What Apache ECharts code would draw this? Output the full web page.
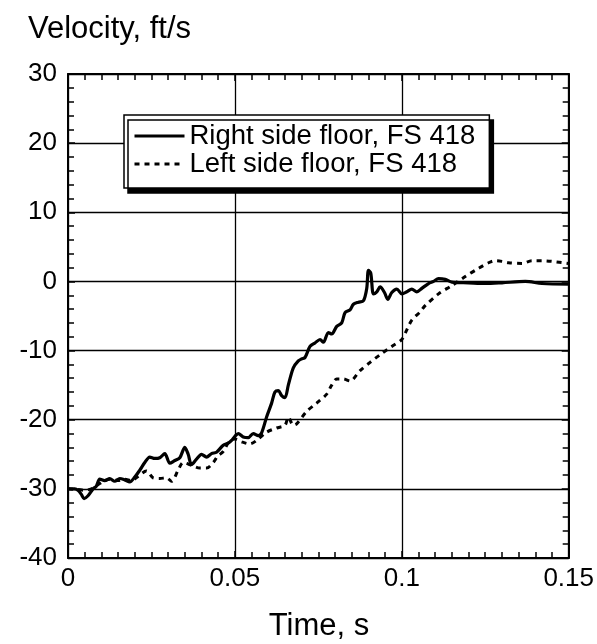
<!DOCTYPE html>
<html>
<head>
<meta charset="utf-8">
<script src="https://cdn.jsdelivr.net/npm/echarts@6/dist/echarts.min.js"></script>
<style>
html,body{margin:0;padding:0;background:#fff;}
#chart{width:597px;height:644px;}
</style>
</head>
<body>
<div id="chart"></div>
<script>
const xTitle = 'Time, s';
const yTitle = 'Velocity, ft/s';
const seriesNames = ['Right side floor, FS 418', 'Left side floor, FS 418'];

const rightT = [0,0.002,0.003,0.004,0.0048,0.006,0.0075,0.0085,0.0095,0.011,0.0125,0.014,0.0155,0.017,0.0185,0.020,0.0215,0.023,0.0245,0.026,0.0275,0.029,0.0305,0.032,0.0335,0.035,0.036,0.037,0.0385,0.040,0.0415,0.043,0.0445,0.0465,0.048,0.049,0.050,0.051,0.0525,0.054,0.0555,0.057,0.058,0.0595,0.061,0.062,0.063,0.064,0.065,0.066,0.0675,0.069,0.070,0.071,0.0725,0.074,0.0755,0.0765,0.078,0.079,0.0805,0.082,0.083,0.0845,0.0855,0.087,0.0885,0.0895,0.0900,0.0907,0.0915,0.0925,0.0935,0.0948,0.0958,0.097,0.0985,0.100,0.1015,0.103,0.1045,0.106,0.108,0.1095,0.111,0.113,0.115,0.120,0.125,0.130,0.137,0.142,0.150];
const rightV = [-30,-30,-30.2,-30.8,-31.4,-31.0,-30.0,-29.6,-28.6,-28.8,-28.5,-28.9,-28.5,-28.7,-29.0,-28.3,-27.3,-26.2,-25.4,-25.6,-25.5,-24.9,-26.3,-25.9,-25.5,-24.0,-25.0,-26.5,-25.7,-25.0,-25.4,-24.9,-24.7,-23.7,-23.4,-23.0,-22.4,-22.0,-22.5,-22.6,-22.0,-22.3,-21.9,-19.6,-17.6,-16.0,-15.8,-16.5,-16.8,-15.0,-12.5,-11.5,-11.2,-11.0,-9.4,-8.9,-8.4,-8.8,-7.4,-7.6,-6.5,-6.0,-4.5,-4.1,-3.3,-3.0,-2.8,-1.0,1.6,1.2,-1.8,-1.5,-0.8,-1.6,-2.6,-1.6,-1.1,-1.8,-1.5,-1.1,-1.5,-1.0,-0.3,0.0,0.4,0.3,-0.1,-0.2,-0.3,-0.2,0.0,-0.3,-0.4];

const leftT = [0,0.003,0.005,0.007,0.009,0.011,0.013,0.015,0.017,0.019,0.021,0.0235,0.0255,0.0275,0.0295,0.031,0.033,0.0345,0.037,0.0395,0.0415,0.0435,0.0448,0.0465,0.0485,0.050,0.052,0.0545,0.057,0.0595,0.0625,0.065,0.066,0.0675,0.0685,0.0715,0.0745,0.0775,0.079,0.0805,0.0825,0.0845,0.0875,0.0905,0.0935,0.097,0.100,0.1015,0.103,0.1055,0.107,0.111,0.115,0.119,0.123,0.126,0.128,0.130,0.132,0.136,0.139,0.142,0.145,0.150];
const leftV = [-30,-30.1,-30.2,-30.0,-29.4,-28.8,-28.6,-28.8,-28.6,-28.8,-28.2,-27.4,-28.4,-28.5,-28.4,-28.9,-27.3,-26.2,-26.6,-27.0,-27.0,-26.2,-25.3,-24.6,-23.0,-22.8,-23.2,-23.5,-22.8,-21.8,-21.2,-20.8,-19.6,-20.8,-20.6,-18.8,-17.6,-16.3,-15.0,-14.1,-14.1,-14.4,-12.9,-11.7,-10.6,-9.4,-8.4,-7.0,-5.6,-4.4,-3.5,-1.8,-0.6,0.7,1.9,2.7,3.0,2.9,2.7,2.6,3.0,3.0,2.9,2.6];

const xMin = 0, xMax = 0.15, xStep = 0.05;
const yMin = -40, yMax = 30, yStep = 10;

const FONT = "'Liberation Sans', Arial, Helvetica, sans-serif";
const chart = echarts.init(document.getElementById('chart'), null, {renderer: 'canvas'});

const zip = (a, b) => a.map((v, i) => [v, b[i]]);

const baseX = {
  type: 'value', min: xMin, max: xMax, interval: xStep,
  axisLine: {show: true, onZero: false, lineStyle: {color: '#000', width: 2}},
  axisTick: {show: true, inside: true, length: 7, lineStyle: {color: '#000', width: 1.5}},
  minorTick: {show: true, splitNumber: 10, length: 6, lineStyle: {color: '#000', width: 1.5}},
  splitLine: {show: false}
};
const baseY = {
  type: 'value', min: yMin, max: yMax, interval: yStep,
  axisLine: {show: true, onZero: false, lineStyle: {color: '#000', width: 2}},
  axisTick: {show: true, inside: true, length: 7, lineStyle: {color: '#000', width: 1.5}},
  minorTick: {show: true, splitNumber: 5, length: 6, lineStyle: {color: '#000', width: 1.5}},
  splitLine: {show: false}
};

chart.setOption({
  animation: false,
  backgroundColor: '#fff',
  textStyle: {fontFamily: FONT},
  grid: {left: 68, right: 27, top: 74, bottom: 86, containLabel: false},
  xAxis: [
    Object.assign({}, baseX, {
      position: 'bottom',
      splitLine: {show: true, lineStyle: {color: '#000', width: 1.3}},
      axisLabel: {show: true, color: '#000', fontSize: 26, fontFamily: FONT, margin: 8,
        formatter: v => String(+v.toFixed(3))}
    }),
    Object.assign({}, baseX, {position: 'top', axisLabel: {show: false}})
  ],
  yAxis: [
    Object.assign({}, baseY, {
      position: 'left',
      splitLine: {show: true, lineStyle: {color: '#000', width: 1.3}},
      axisLabel: {show: true, color: '#000', fontSize: 26, fontFamily: FONT, margin: 11,
        padding: [0, 0, 8, 0]}
    }),
    Object.assign({}, baseY, {position: 'right', axisLabel: {show: false}})
  ],
  legend: {
    show: true,
    orient: 'vertical',
    left: 124, top: 115,
    padding: [7, 14, 10, 9],
    itemGap: 0,
    itemWidth: 50, itemHeight: 27,
    backgroundColor: '#fff',
    borderColor: '#000', borderWidth: 1.5,
    shadowColor: '#000', shadowBlur: 0, shadowOffsetX: 4, shadowOffsetY: 5,
    itemStyle: {opacity: 0, borderWidth: 0},
    lineStyle: {width: 3},
    textStyle: {color: '#000', fontSize: 27.5, fontFamily: FONT, lineHeight: 27},
    data: seriesNames
  },
  graphic: [
    {type: 'text', left: 28, top: 14, style: {text: yTitle, fill: '#000', font: "31px " + FONT}},
    {type: 'text', x: 319, y: 626, style: {text: xTitle, fill: '#000', font: "31px " + FONT, textAlign: 'center', textVerticalAlign: 'middle'}}
  ],
  series: [
    {
      name: seriesNames[0], type: 'line', xAxisIndex: 0, yAxisIndex: 0,
      data: zip(rightT, rightV), showSymbol: false, symbol: 'none',
      smooth: 0.3,
      lineStyle: {color: '#000', width: 3.2}, itemStyle: {color: '#000'}
    },
    {
      name: seriesNames[1], type: 'line', xAxisIndex: 0, yAxisIndex: 0,
      data: zip(leftT, leftV), showSymbol: false, symbol: 'none',
      smooth: 0.3,
      lineStyle: {color: '#000', width: 3, type: [5, 5]}, itemStyle: {color: '#000'}
    }
  ]
});
</script>
</body>
</html>
